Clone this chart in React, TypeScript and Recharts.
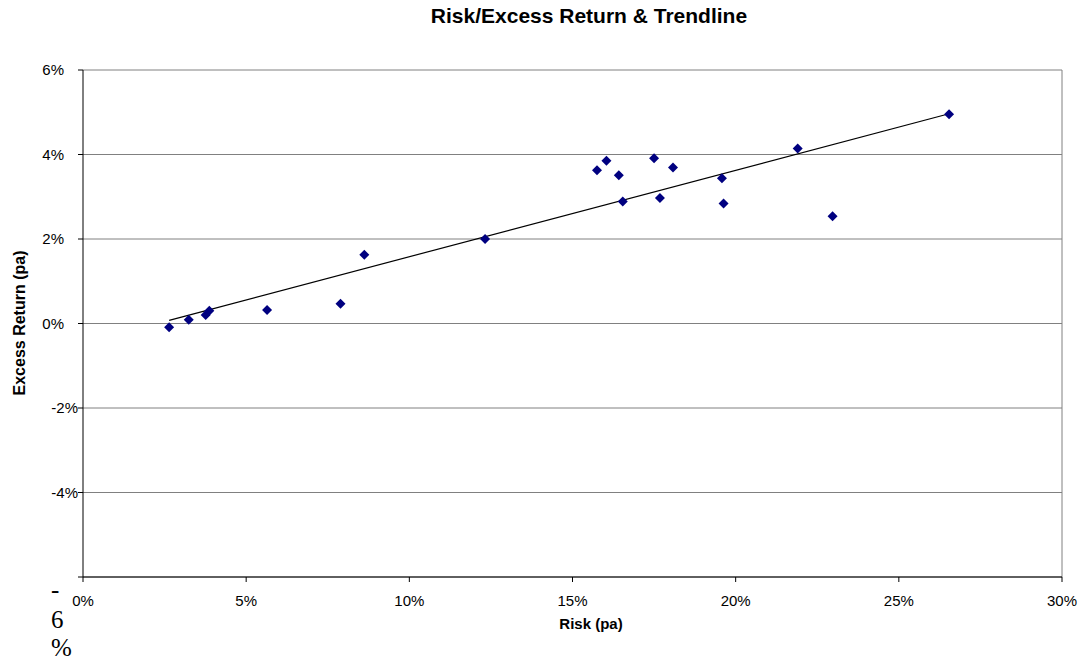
import React from "react";
import {
  ScatterChart,
  Scatter,
  XAxis,
  YAxis,
  CartesianGrid,
  ReferenceLine,
} from "recharts";

// Risk (x) and excess return (y), both in percent per annum
const riskPct = [
  2.64, 3.24, 3.76, 3.87, 5.64, 7.89, 8.62, 12.32, 15.75, 16.04, 16.42, 16.54,
  17.5, 17.68, 18.08, 19.58, 19.63, 21.9, 22.97, 26.54,
];
const excessPct = [
  -0.09, 0.09, 0.2, 0.3, 0.32, 0.47, 1.63, 2.0, 3.63, 3.85, 3.51, 2.89, 3.91,
  2.97, 3.69, 3.44, 2.84, 4.14, 2.54, 4.95,
];

const xTicks = [0, 5, 10, 15, 20, 25, 30];
const yTicks = [-6, -4, -2, 0, 2, 4, 6];

const W = 1087;
const H = 661;
const SANS = "'Liberation Sans', Arial, sans-serif";

const points = riskPct.map((r, i) => ({ risk: r, excess: excessPct[i] }));

// least-squares trendline over the plotted points
function fitLine(xs: number[], ys: number[]) {
  const n = xs.length;
  const mx = xs.reduce((s, v) => s + v, 0) / n;
  const my = ys.reduce((s, v) => s + v, 0) / n;
  let sxy = 0;
  let sxx = 0;
  for (let i = 0; i < n; i++) {
    sxy += (xs[i] - mx) * (ys[i] - my);
    sxx += (xs[i] - mx) * (xs[i] - mx);
  }
  const slope = sxy / sxx;
  return { slope, intercept: my - slope * mx };
}

const fit = fitLine(riskPct, excessPct);
const x0 = Math.min(...riskPct);
const x1 = Math.max(...riskPct);
const trend = [
  { x: x0, y: fit.intercept + fit.slope * x0 },
  { x: x1, y: fit.intercept + fit.slope * x1 },
];

function Diamond(props: any) {
  const { cx, cy } = props;
  if (cx == null || cy == null) return null;
  const r = 5;
  return (
    <polygon
      points={`${cx},${cy - r} ${cx + r},${cy} ${cx},${cy + r} ${cx - r},${cy}`}
      fill="#000080"
    />
  );
}

function XTick(props: any) {
  const { x, y, payload } = props;
  return (
    <text
      x={x}
      y={y}
      dy="0.71em"
      textAnchor="middle"
      fontFamily={SANS}
      fontSize={15}
      fill="#000"
    >
      {`${payload.value}%`}
    </text>
  );
}

function YTick(props: any) {
  const { x, y, payload } = props;
  const v = payload.value;
  if (v === -6) {
    // this label wraps onto three lines in a serif face
    return (
      <text fontFamily="'Liberation Serif', 'Times New Roman', serif" fontSize={25} fill="#000">
        <tspan x={x - 13} y={y + 21}>-</tspan>
        <tspan x={x - 13} y={y + 51}>6</tspan>
        <tspan x={x - 13} y={y + 79}>%</tspan>
      </text>
    );
  }
  return (
    <text
      x={v < 0 ? x + 14 : x}
      y={y}
      dy="0.36em"
      textAnchor="end"
      fontFamily={SANS}
      fontSize={15}
      fill="#000"
    >
      {`${v}%`}
    </text>
  );
}

export default function App() {
  return (
    <div style={{ position: "absolute", left: 0, top: 0, width: W, height: H, background: "#fff" }}>
      <ScatterChart
        width={W}
        height={H}
        margin={{ top: 70, right: 25, bottom: 0, left: 0 }}
      >
        <CartesianGrid vertical={false} stroke="#808080" strokeWidth={1} />
        <XAxis
          type="number"
          dataKey="risk"
          domain={[0, 30]}
          ticks={xTicks}
          allowDataOverflow
          height={84}
          tickSize={5}
          tickMargin={13}
          axisLine={{ stroke: "#000" }}
          tickLine={{ stroke: "#000" }}
          tick={<XTick />}
          interval={0}
        />
        <YAxis
          type="number"
          dataKey="excess"
          domain={[-6, 6]}
          ticks={yTicks}
          allowDataOverflow
          width={83}
          tickSize={5}
          tickMargin={14}
          axisLine={{ stroke: "#000" }}
          tickLine={{ stroke: "#000" }}
          tick={<YTick />}
          interval={0}
        />
        <ReferenceLine x={30} stroke="#808080" />
        <ReferenceLine
          segment={trend}
          stroke="#000"
          strokeWidth={1.2}
          ifOverflow="visible"
        />
        <Scatter data={points} shape={<Diamond />} isAnimationActive={false} />
      </ScatterChart>
      <svg
        width={W}
        height={H}
        style={{ position: "absolute", left: 0, top: 0, pointerEvents: "none" }}
      >
        <text x={589} y={23} textAnchor="middle" fontFamily={SANS} fontWeight="bold" fontSize={21} fill="#000">
          Risk/Excess Return &amp; Trendline
        </text>
        <text x={591} y={629} textAnchor="middle" fontFamily={SANS} fontWeight="bold" fontSize={15} fill="#000">
          Risk (pa)
        </text>
        <text
          transform="translate(25,323) rotate(-90)"
          textAnchor="middle"
          fontFamily={SANS}
          fontWeight="bold"
          fontSize={16}
          fill="#000"
        >
          Excess Return (pa)
        </text>
      </svg>
    </div>
  );
}
